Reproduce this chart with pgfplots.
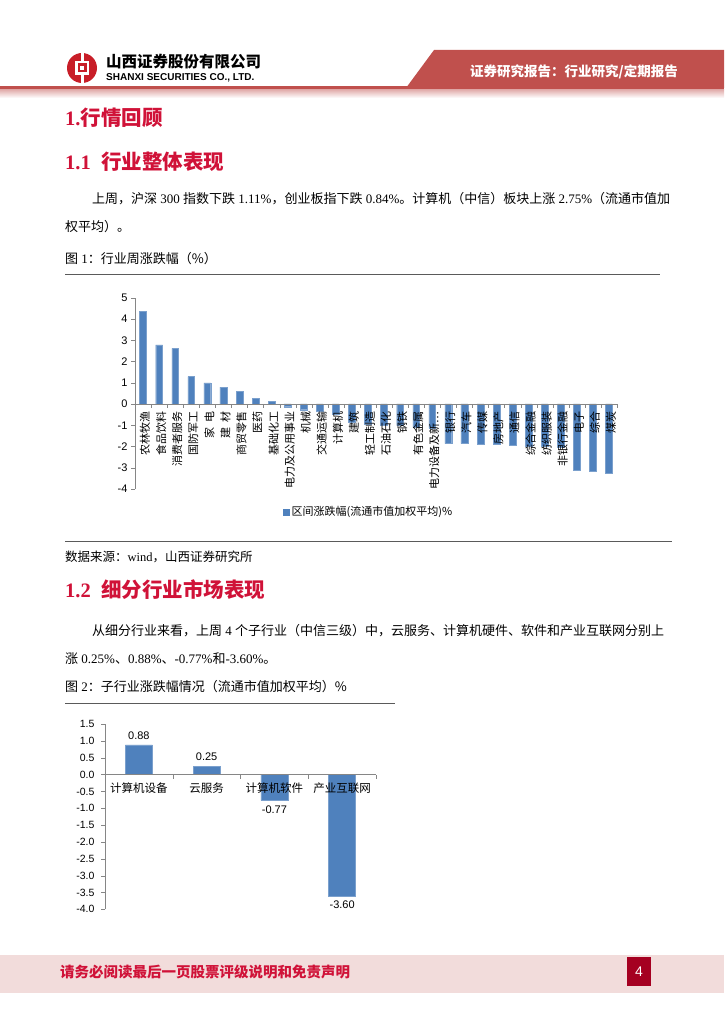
\documentclass[border=0pt]{standalone}
\usepackage{pgfplots}
\pgfplotsset{compat=1.18}
\usepackage{fontspec}
\setmainfont{Liberation Serif}
\setsansfont{Liberation Sans}
\newfontfamily\cjk{Noto Sans CJK SC}
\definecolor{barblue}{RGB}{79,129,189}
\definecolor{headred}{RGB}{208,18,56}
\definecolor{bannerred}{RGB}{192,80,77}
\definecolor{footpink}{RGB}{242,220,219}
\definecolor{darkred}{RGB}{165,0,33}
\definecolor{logored}{RGB}{200,30,40}
\definecolor{axisgray}{RGB}{134,134,134}
\definecolor{rulegray}{RGB}{90,90,90}

\pgfplotstableread{
x y
0 4.37
1 2.78
2 2.62
3 1.29
4 0.99
5 0.79
6 0.60
7 0.27
8 0.13
9 -0.13
10 -0.27
11 -0.36
12 -0.47
13 -0.88
14 -0.93
15 -1.00
16 -1.02
17 -1.10
18 -1.15
19 -1.86
20 -1.86
21 -1.90
22 -1.91
23 -1.94
24 -1.98
25 -2.00
26 -2.05
27 -3.11
28 -3.16
29 -3.27
}\weekdata

\pgfplotstableread{
x y
0 0.88
1 0.25
2 -0.77
3 -3.60
}\subdata

\begin{document}
\begin{tikzpicture}
\fill[white] (0pt,0pt) rectangle (724pt,-1024pt);
\useasboundingbox (0pt,0pt) rectangle (724pt,-1024pt);

\begin{scope}[x=1pt,y=-1pt]
% header
\fill[bannerred] (434,50) -- (724,50) -- (724,88) -- (406,88) -- cycle;
\fill[bannerred] (0,86) rectangle (724,90);
\shade[top color=bannerred!45, bottom color=white] (0,90) rectangle (724,98);
\node[anchor=west, text=white, font=\cjk\bfseries\fontsize{13.5}{15}\selectfont, inner sep=0] at (470,72) {证券研究报告：行业研究/定期报告};
% logo
\fill[logored] (82,68) circle (15);
\fill[white] (75,61) rectangle (89,75);
\fill[logored] (77.5,63.5) rectangle (86.5,72.5);
\fill[white] (80,66) rectangle (84,70);
\fill[white] (80.5,52) rectangle (83.5,61);
\fill[white] (80.5,75) rectangle (83.5,84);
\node[anchor=west, font=\cjk\bfseries\fontsize{15.5}{17}\selectfont, inner sep=0] at (106,62) {山西证券股份有限公司};
\node[anchor=west, font=\sffamily\bfseries\fontsize{10}{12}\selectfont, inner sep=0] at (106,78) {SHANXI SECURITIES CO., LTD.};

% headings and text
\node[anchor=west, text=headred, font=\fontsize{20.5}{22}\selectfont, inner sep=0] at (65,118) {\textbf{1.}{\cjk\bfseries 行情回顾}};
\node[anchor=west, text=headred, font=\fontsize{20.5}{22}\selectfont, inner sep=0] at (65,162) {\textbf{1.1\ \ }{\cjk\bfseries 行业整体表现}};
\node[anchor=west, font=\cjk\fontsize{13}{15}\selectfont, inner sep=0] at (92,199) {上周，沪深{\rmfamily\ 300 }指数下跌{\rmfamily\ 1.11\%}，创业板指下跌{\rmfamily\ 0.84\%}。计算机（中信）板块上涨{\rmfamily\ 2.75\%}（流通市值加};
\node[anchor=west, font=\cjk\fontsize{13}{15}\selectfont, inner sep=0] at (65,227) {权平均）。};
\node[anchor=west, font=\cjk\fontsize{13}{15}\selectfont, inner sep=0] at (65,259) {图{\rmfamily\ 1}：行业周涨跌幅（\%）};
\draw[rulegray, line width=1] (65,274) -- (660,274);
\draw[rulegray, line width=1] (65,541) -- (672,541);
\node[anchor=west, font=\cjk\fontsize{12.5}{14}\selectfont, inner sep=0] at (65,557) {数据来源：{\rmfamily wind}，山西证券研究所};
\node[anchor=west, text=headred, font=\fontsize{20.5}{22}\selectfont, inner sep=0] at (65,590) {\textbf{1.2\ \ }{\cjk\bfseries 细分行业市场表现}};
\node[anchor=west, font=\cjk\fontsize{13}{15}\selectfont, inner sep=0] at (92,631) {从细分行业来看，上周{\rmfamily\ 4 }个子行业（中信三级）中，云服务、计算机硬件、软件和产业互联网分别上};
\node[anchor=west, font=\cjk\fontsize{13}{15}\selectfont, inner sep=0] at (65,659) {涨{\rmfamily\ 0.25\%}、{\rmfamily 0.88\%}、{\rmfamily -0.77\%}和{\rmfamily -3.60\%}。};
\node[anchor=west, font=\cjk\fontsize{13}{15}\selectfont, inner sep=0] at (65,687) {图{\rmfamily\ 2}：子行业涨跌幅情况（流通市值加权平均）\%};
\draw[rulegray, line width=1] (65,703) -- (395,703);

% footer
\fill[footpink] (0,955) rectangle (724,993);
\node[anchor=west, text=headred, font=\cjk\bfseries\fontsize{14.5}{16}\selectfont, inner sep=0] at (60,972) {请务必阅读最后一页股票评级说明和免责声明};
\fill[darkred] (627,957) rectangle (651,986);
\node[text=white, font=\sffamily\fontsize{14}{16}\selectfont] at (639,971.5) {4};
\end{scope}

% chart 1
\begin{axis}[
  at={(135pt,-489pt)}, anchor=south west,
  scale only axis, width=482pt, height=191.3pt,
  ymin=-4, ymax=5, xmin=-0.5, xmax=29.5,
  axis on top,
  axis x line*=middle, axis y line*=left,
  hide obscured y ticks=false,
  ybar, bar width=6.8pt,
  xtick={0,...,29},
  xticklabels={农林牧渔,食品饮料,消费者服务,国防军工,家\ \ 电,建\ \ 材,商贸零售,医药,基础化工,电力及公用事业,机械,交通运输,计算机,建筑,轻工制造,石油石化,钢铁,有色金属,电力设备及新…,银行,汽车,传媒,房地产,通信,综合金融,纺织服装,非银行金融,电子,综合,煤炭},
  major x tick style={draw=none},
  minor xtick={-0.5,0.5,...,29.5},
  ytick={-4,-3,...,5},
  tick align=outside, major tick length=4pt, minor tick length=4pt,
  axis line style={axisgray}, tick style={axisgray},
  /pgf/number format/assume math mode=true,
  yticklabel style={font=\sffamily\fontsize{11}{12}\selectfont},
  xticklabel style={font=\cjk\fontsize{11}{12}\selectfont, rotate=90, anchor=east, yshift=-2pt},
  legend style={at={(0.485,-0.12)}, anchor=center, draw=none, fill=none, font=\cjk\fontsize{11}{13}\selectfont},
]
\addplot[fill=barblue, draw=barblue!75!white, legend image code/.code={\fill[barblue] (0pt,-3pt) rectangle (6pt,3pt);}] table[x=x,y=y] {\weekdata};
\addlegendentry{区间涨跌幅(流通市值加权平均)\%}
\end{axis}

% chart 2
\begin{axis}[
  at={(105pt,-909.3pt)}, anchor=south west,
  scale only axis, width=271pt, height=185.3pt,
  ymin=-4, ymax=1.5, xmin=-0.5, xmax=3.5,
  axis on top,
  axis x line*=middle, axis y line*=left,
  hide obscured y ticks=false,
  ybar, bar width=27pt,
  xtick={0,1,2,3},
  xticklabels={计算机设备,云服务,计算机软件,产业互联网},
  major x tick style={draw=none},
  minor xtick={-0.5,0.5,1.5,2.5,3.5},
  ytick={-4,-3.5,-3,-2.5,-2,-1.5,-1,-0.5,0,0.5,1,1.5},
  tick align=outside, major tick length=4pt, minor tick length=4pt,
  axis line style={axisgray}, tick style={axisgray},
  /pgf/number format/assume math mode=true,
  yticklabel style={font=\sffamily\fontsize{10.5}{12}\selectfont, xshift=-3pt, /pgf/number format/.cd, fixed, fixed zerofill, precision=1},
  xticklabel style={font=\cjk\fontsize{11.5}{13}\selectfont, anchor=north, yshift=-1pt},
  nodes near coords,
  nodes near coords style={font=\sffamily\fontsize{11}{13}\selectfont, inner sep=5pt, /pgf/number format/.cd, fixed, fixed zerofill, precision=2, assume math mode=true},
]
\addplot[fill=barblue, draw=barblue!75!white] table[x=x,y=y] {\subdata};
\end{axis}
\end{tikzpicture}
\end{document}
